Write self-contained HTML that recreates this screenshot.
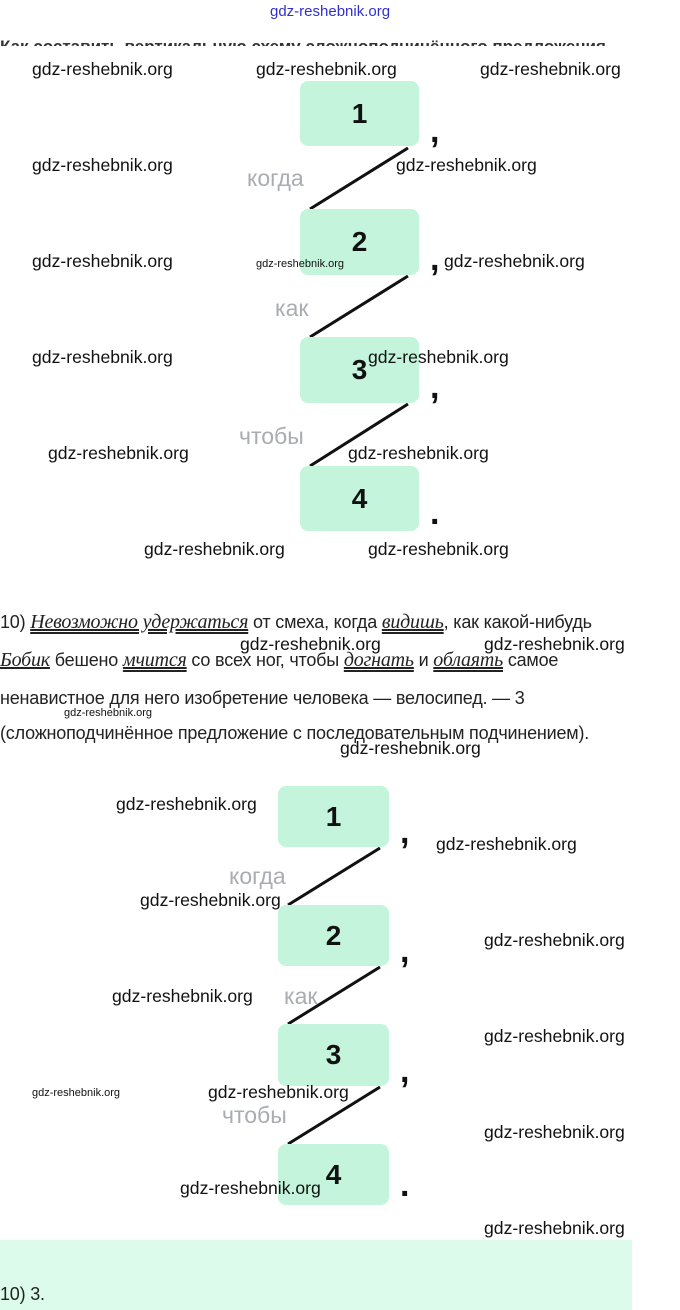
<!DOCTYPE html>
<html><head><meta charset="utf-8"><style>
body{margin:0;width:680px;height:1310px;position:relative;background:#fff;overflow:hidden;font-family:"Liberation Sans",sans-serif}
.a{position:absolute;white-space:nowrap}
.w{position:absolute;font-size:17.6px;color:#111;white-space:nowrap;font-family:"Liberation Sans Narrow","Liberation Sans",sans-serif;line-height:20px}
.b{position:absolute;background:#c4f5dc;border-radius:8px;font-size:28px;font-weight:bold;color:#111;display:flex;align-items:center;justify-content:center}
.c{position:absolute;font-size:34px;font-weight:bold;color:#111;line-height:30px}
.g{position:absolute;font-size:23px;color:#a9acb0;line-height:24px}
.t{position:absolute;font-size:18px;color:#222;white-space:nowrap;line-height:20px;letter-spacing:-0.2px}
i{font-family:"Liberation Serif",serif;font-size:20px}
</style></head><body>
<div class="a" style="left:270px;top:3px;font-size:15px;color:#3030d0;">gdz-reshebnik.org</div>
<div class="a" style="left:0;top:34px;width:630px;height:12px;overflow:hidden;font-size:17px;font-weight:bold;color:#333;line-height:26px">Как составить вертикальную схему сложноподчинённого предложения</div>

<svg class="a" style="left:0;top:0" width="680" height="1310">
<g stroke="#111" stroke-width="3">
<line x1="408" y1="148" x2="310" y2="209"/>
<line x1="408" y1="276" x2="310" y2="337"/>
<line x1="408" y1="404" x2="310" y2="466"/>
<line x1="380" y1="848" x2="288" y2="905"/>
<line x1="380" y1="967" x2="288" y2="1024"/>
<line x1="380" y1="1087" x2="288" y2="1144"/>
</g></svg>

<div class="b" style="left:300px;top:81px;width:119px;height:65px">1</div>
<div class="b" style="left:300px;top:209px;width:119px;height:66px">2</div>
<div class="b" style="left:300px;top:337px;width:119px;height:66px">3</div>
<div class="b" style="left:300px;top:466px;width:119px;height:65px">4</div>
<div class="c" style="left:430px;top:116px">,</div>
<div class="c" style="left:430px;top:244px">,</div>
<div class="c" style="left:430px;top:372px">,</div>
<div class="c" style="left:430px;top:498px">.</div>
<div class="g" style="left:247px;top:166px">когда</div>
<div class="g" style="left:275px;top:296px">как</div>
<div class="g" style="left:239px;top:424px">чтобы</div>

<div class="w" style="left:32px;top:59px">gdz-reshebnik.org</div>
<div class="w" style="left:256px;top:59px">gdz-reshebnik.org</div>
<div class="w" style="left:480px;top:59px">gdz-reshebnik.org</div>
<div class="w" style="left:32px;top:155px">gdz-reshebnik.org</div>
<div class="w" style="left:396px;top:155px">gdz-reshebnik.org</div>
<div class="w" style="left:32px;top:251px">gdz-reshebnik.org</div>
<div class="w" style="left:256px;top:254px;font-size:11px">gdz-reshebnik.org</div>
<div class="w" style="left:444px;top:251px">gdz-reshebnik.org</div>
<div class="w" style="left:32px;top:347px">gdz-reshebnik.org</div>
<div class="w" style="left:368px;top:347px">gdz-reshebnik.org</div>
<div class="w" style="left:48px;top:443px">gdz-reshebnik.org</div>
<div class="w" style="left:348px;top:443px">gdz-reshebnik.org</div>
<div class="w" style="left:144px;top:539px">gdz-reshebnik.org</div>
<div class="w" style="left:368px;top:539px">gdz-reshebnik.org</div>

<div class="t" style="left:0;top:612px">10) <i style="text-decoration:underline double">Невозможно удержаться</i> от смеха, когда <i style="text-decoration:underline double">видишь</i>, как какой-нибудь</div>
<div class="t" style="left:0;top:650px"><i style="text-decoration:underline">Бобик</i> бешено <i style="text-decoration:underline double">мчится</i> со всех ног, чтобы <i style="text-decoration:underline double">догнать</i> и <i style="text-decoration:underline double">облаять</i> самое</div>
<div class="t" style="left:0;top:688px">ненавистное для него изобретение человека — велосипед. — 3</div>
<div class="t" style="left:0;top:723px">(сложноподчинённое предложение с последовательным подчинением).</div>
<div class="w" style="left:240px;top:634px">gdz-reshebnik.org</div>
<div class="w" style="left:484px;top:634px">gdz-reshebnik.org</div>
<div class="w" style="left:64px;top:703px;font-size:11px">gdz-reshebnik.org</div>
<div class="w" style="left:340px;top:738px">gdz-reshebnik.org</div>

<div class="b" style="left:278px;top:786px;width:111px;height:61px">1</div>
<div class="b" style="left:278px;top:905px;width:111px;height:61px">2</div>
<div class="b" style="left:278px;top:1024px;width:111px;height:62px">3</div>
<div class="b" style="left:278px;top:1144px;width:111px;height:61px">4</div>
<div class="c" style="left:400px;top:817px">,</div>
<div class="c" style="left:400px;top:936px">,</div>
<div class="c" style="left:400px;top:1056px">,</div>
<div class="c" style="left:400px;top:1170px">.</div>
<div class="g" style="left:229px;top:864px">когда</div>
<div class="g" style="left:284px;top:984px">как</div>
<div class="g" style="left:222px;top:1103px">чтобы</div>

<div class="w" style="left:116px;top:794px">gdz-reshebnik.org</div>
<div class="w" style="left:436px;top:834px">gdz-reshebnik.org</div>
<div class="w" style="left:140px;top:890px">gdz-reshebnik.org</div>
<div class="w" style="left:484px;top:930px">gdz-reshebnik.org</div>
<div class="w" style="left:112px;top:986px">gdz-reshebnik.org</div>
<div class="w" style="left:484px;top:1026px">gdz-reshebnik.org</div>
<div class="w" style="left:32px;top:1083px;font-size:11px">gdz-reshebnik.org</div>
<div class="w" style="left:208px;top:1082px">gdz-reshebnik.org</div>
<div class="w" style="left:484px;top:1122px">gdz-reshebnik.org</div>
<div class="w" style="left:180px;top:1178px">gdz-reshebnik.org</div>
<div class="w" style="left:484px;top:1218px">gdz-reshebnik.org</div>

<div class="a" style="left:0;top:1240px;width:632px;height:70px;background:#ddfbea"></div>
<div class="t" style="left:0;top:1284px">10) 3.</div>
</body></html>
